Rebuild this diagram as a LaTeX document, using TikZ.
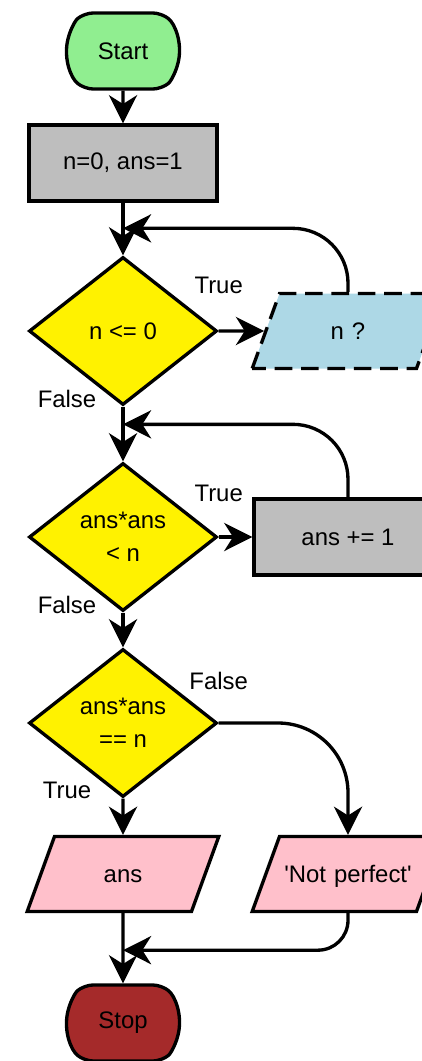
\documentclass[tikz,border=0pt]{standalone}
\usepackage{fontspec}
\setmainfont{Liberation Sans}
\usetikzlibrary{shapes.geometric,shapes.misc,arrows.meta,positioning}

\definecolor{startgreen}{HTML}{90EE90}
\definecolor{boxgray}{HTML}{BEBEBE}
\definecolor{askblue}{HTML}{ADD8E6}
\definecolor{outpink}{HTML}{FFC0CB}
\definecolor{stopbrown}{HTML}{A52A2A}

\begin{document}
\begin{tikzpicture}[font=\fontsize{13.6}{17}\selectfont,
  every node/.style={line width=1.9pt, inner sep=0pt},
  term/.style={draw, rounded rectangle, rounded rectangle arc length=100, rounded corners=5pt, minimum width=2.26cm, minimum height=1.52cm},
  proc/.style={draw, rectangle, minimum width=3.76cm, minimum height=1.52cm, fill=boxgray},
  cond/.style={draw, diamond, minimum width=3.76cm, minimum height=2.96cm, fill=yellow, align=center},
  io/.style={draw, trapezium, trapezium left angle=70, trapezium right angle=110, text width=2.74cm, align=center, text height=0.92cm, text depth=0.58cm},
  lbl/.style={},
  flow/.style={line width=1.9pt, -{Stealth[length=16pt, width=16pt, inset=5pt]}}]
\useasboundingbox (0,0) rectangle (8.42,-21.22);

   \node[term, fill=startgreen] (start) at (2.46,-1.02) {Start};
   \node[proc] (init) at (2.46,-3.26) {n=0, ans=1};
   \node[cond] (d1) at (2.46,-6.62) {n <= 0};
   \node[io, fill=askblue, dashed, dash pattern=on 10pt off 5pt] (ask) at (6.96,-6.62) {n ?};
   \node[cond] (d2) at (2.46,-10.74) {ans*ans\\[2pt]< n};
   \node[proc] (inc) at (6.96,-10.74) {ans += 1};
   \node[cond] (d3) at (2.46,-14.46) {ans*ans\\[2pt]== n};
   \node[io, fill=outpink] (outans) at (2.46,-17.48) {ans};
   \node[io, fill=outpink] (outno) at (6.96,-17.48) {\textquotesingle Not perfect\textquotesingle};
   \node[term, fill=stopbrown] (stop) at (2.46,-20.46) {Stop};

   \coordinate (j1) at ([yshift=0.54cm]d1.north);
   \coordinate (j2) at ([yshift=0.74cm]d2.north);
   \coordinate (j3) at ([yshift=-0.74cm]outans.south);

\draw[flow] (start) -- (init);
\draw[line width=1.9pt] (init) -- (j1);
\draw[flow] (j1) -- (d1);
\draw[flow] (d1) -- (ask);
\draw[flow, rounded corners=1.1cm] (ask.north) |- (j1);
\draw[line width=1.9pt] (d1) -- (j2);
\draw[flow] (j2) -- (d2);
\draw[flow] (d2) -- (inc);
\draw[flow, rounded corners=1.1cm] (inc.north) |- (j2);
\draw[flow] (d2) -- (d3);
\draw[flow] (d3) -- (outans);
\draw[flow, rounded corners=1.4cm] (d3.east) -| (outno.north);
\draw[flow] (outans) -- (stop);
\draw[flow, rounded corners=0.6cm] (outno.south) |- (j3);

\node[lbl] (t1) at ([yshift=0.92cm]d1.east) {True};
\node[lbl] (f1) at ([xshift=-1.12cm,yshift=0.16cm]d1.south) {False};
\node[lbl] (t2) at ([yshift=0.88cm]d2.east) {True};
\node[lbl] (f2) at ([xshift=-1.12cm,yshift=0.16cm]d2.south) {False};
\node[lbl] (f3) at ([yshift=0.84cm]d3.east) {False};
\node[lbl] (t3) at ([xshift=-1.12cm,yshift=0.16cm]d3.south) {True};

\end{tikzpicture}
\end{document}
